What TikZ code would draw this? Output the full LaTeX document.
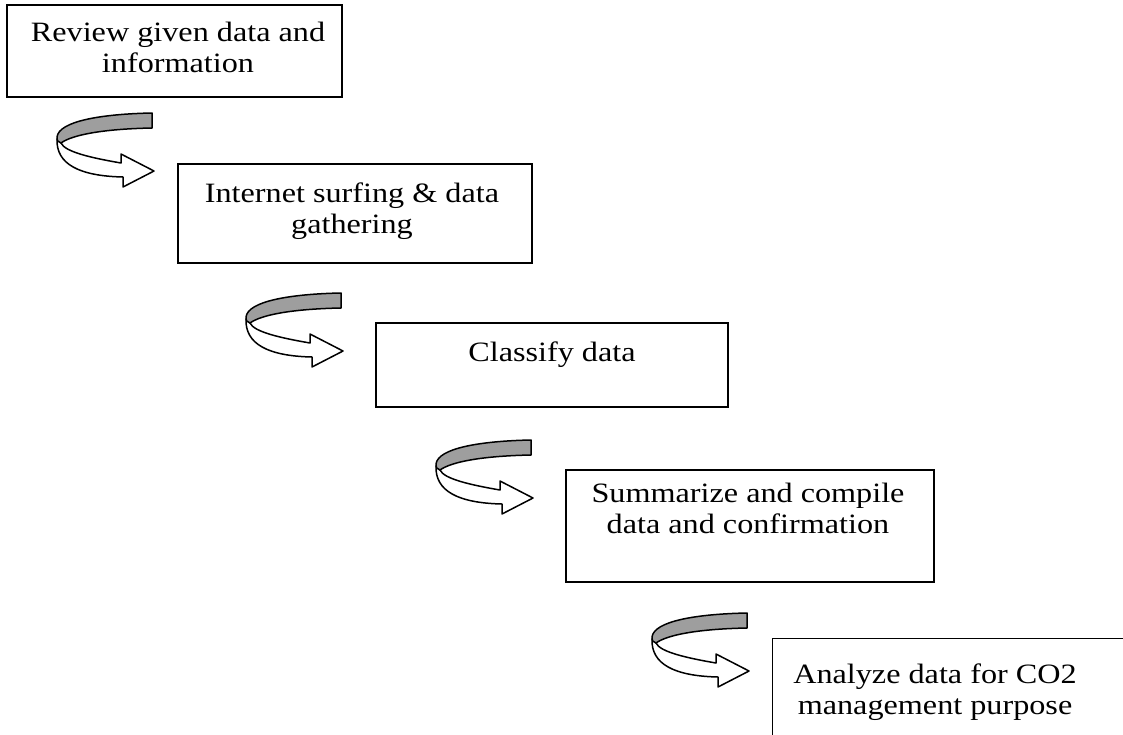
\documentclass[tikz,border=0pt]{standalone}
\usepackage{fontspec}
\setmainfont[FakeStretch=1.15]{Liberation Serif}
\begin{document}
\begin{tikzpicture}[x=1pt,y=-1pt,
  box/.style={draw, line width=1.2pt, inner sep=0pt},
  lbl/.style={font=\fontsize{28}{31}\selectfont, align=center, inner sep=0pt},
  pics/twist/.style={code={
    \filldraw[fill=white, draw=black, line width=1.5pt, line join=round]
      (0,-6) .. controls (-1,19) and (22,31) .. (66,32) -- (66,42) -- (97,26)
      -- (64,9) -- (64,18) .. controls (35,13) and (8,7) .. (4,-2) -- cycle;
    \filldraw[fill=black!38, draw=black, line width=1.5pt, line join=round]
      (95,-32) .. controls (45,-31) and (2,-24) .. (0,-8)
      .. controls (0,-4) and (1,-3) .. (4,-2)
      .. controls (15,-10) and (45,-16) .. (95,-17) -- cycle;
  }}]
\useasboundingbox (0,0) rectangle (1123,734);
\clip (0,0) rectangle (1123,734);

\node[box, minimum width=335pt, minimum height=92pt] (b1) at (174.5,51) {};
\node[box, minimum width=354pt, minimum height=99pt] (b2) at (355,213.5) {};
\node[box, minimum width=352pt, minimum height=84pt] (b3) at (552,365) {};
\node[box, minimum width=368pt, minimum height=112pt] (b4) at (750,526) {};
\node[box, minimum width=400pt, minimum height=150pt, anchor=north west] (b5) at (772,638) {};

\node[lbl] (t1) at (178,50.3) {\strut Review given data and\\\strut information};
\node[lbl] (t2) at (352,211.3) {\strut Internet surfing \& data\\\strut gathering};
\node[lbl] (t3) at (552,354.8) {\strut Classify data};
\node[lbl] (t4) at (748,511.3) {\strut Summarize and compile\\\strut data and confirmation};
\node[lbl] (t5) at (935,692.3) {\strut Analyze data for CO2\\\strut management purpose};

\pic (a1) at (57,145) {twist};
\pic (a2) at (246,325) {twist};
\pic (a3) at (436,472) {twist};
\pic (a4) at (652,645) {twist};
\end{tikzpicture}
\end{document}
